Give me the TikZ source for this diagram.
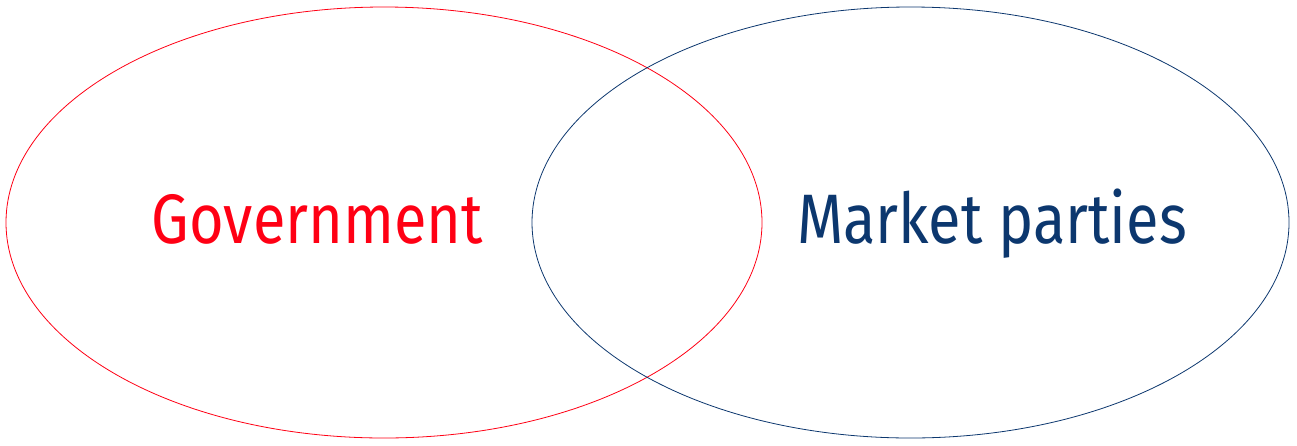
\documentclass[tikz,border=0pt]{standalone}
\usepackage{fontspec}
\setmainfont{Fira Sans}[FakeStretch=0.85]
\usetikzlibrary{positioning}

\definecolor{govred}{RGB}{255,0,20}
\definecolor{marketblue}{RGB}{12,55,110}

\begin{document}
\begin{tikzpicture}[x=1pt, y=-1pt]

% Canvas
\useasboundingbox (0,0) rectangle (1297,445);

% Centres
\coordinate (G) at (384,222.5);
\coordinate (M) at (910.5,222.5);

% Government set
\draw[govred, line width=0.8pt] (G) ellipse[x radius=378, y radius=215.5];

% Market parties set
\draw[marketblue, line width=0.8pt] (M) ellipse[x radius=378.5, y radius=215.5];

% Labels
\node[govred, anchor=base, inner sep=0pt, font=\fontsize{70}{80}\selectfont] (gov) at (317.5,243) {Government};
\node[marketblue, anchor=base, inner sep=0pt, font=\fontsize{70}{80}\selectfont] (market) at (992,243) {Market parties};

\end{tikzpicture}
\end{document}
